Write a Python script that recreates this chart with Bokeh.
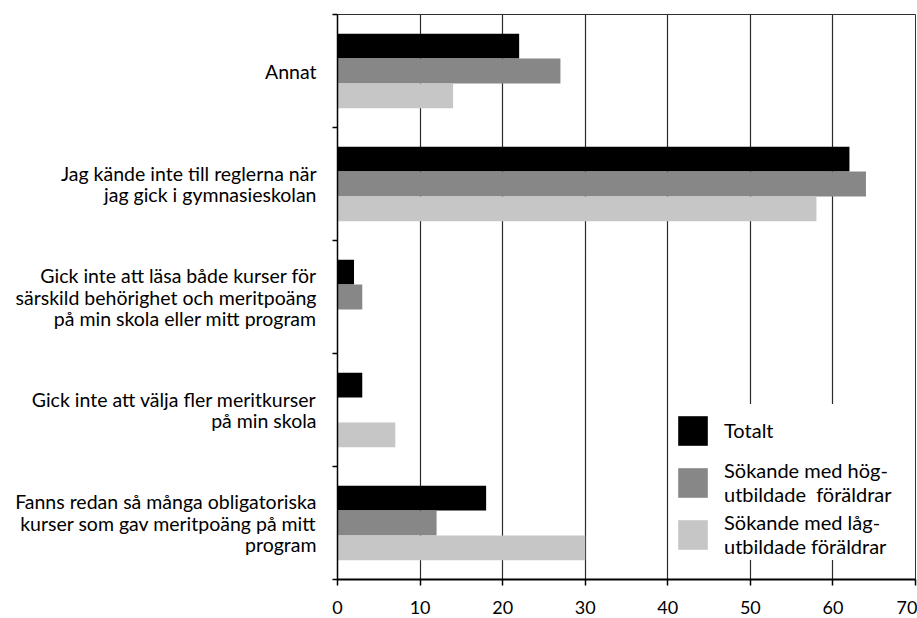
from bokeh.plotting import figure
from bokeh.models import Range1d, FixedTicker, Legend, LegendItem
from bokeh.embed import file_html
from bokeh.resources import INLINE

# ---- data ----
categories = [
    "Annat",
    "Jag kände inte till reglerna när\njag gick i gymnasieskolan",
    "Gick inte att läsa både kurser för\nsärskild behörighet och meritpoäng\npå min skola eller mitt program",
    "Gick inte att välja fler meritkurser\npå min skola",
    "Fanns redan så många obligatoriska\nkurser som gav meritpoäng på mitt\nprogram",
]
totalt = [22, 62, 2, 3, 18]
hog = [27, 64, 3, 0, 12]
lag = [14, 58, 0, 7, 30]
series_names = ["Totalt", "Sökande med hög-\nutbildade  föräldrar", "Sökande med låg-\nutbildade föräldrar"]
series_colors = ["#000000", "#878787", "#c6c6c6"]
x_ticks = [0, 10, 20, 30, 40, 50, 60, 70]

FONT = "Lato"
n = len(categories)
ypos = [n - 0.5 - i for i in range(n)]

p = figure(width=917, height=617, output_backend="svg", toolbar_location=None,
           x_range=Range1d(0, 70), y_range=Range1d(0, n),
           min_border_left=337, min_border_right=2, min_border_top=14, min_border_bottom=38)
p.background_fill_color = "white"
p.border_fill_color = "white"
p.outline_line_color = "#303030"
p.outline_line_width = 1

bar_h = 0.22
offsets = [bar_h, 0.0, -bar_h]
renderers = []
for vals, off, col in zip([totalt, hog, lag], offsets, series_colors):
    r = p.hbar(y=[y + off for y in ypos], left=0, right=vals, height=bar_h,
               fill_color=col, line_color=None)
    renderers.append(r)

# x axis
p.xaxis.ticker = FixedTicker(ticks=x_ticks)
p.xaxis.axis_line_color = "black"
p.xaxis.axis_line_width = 2
p.xaxis.major_tick_out = 6
p.xaxis.major_tick_in = 0
p.xaxis.major_tick_line_color = "black"
p.xaxis.major_tick_line_width = 1.5
p.xaxis.minor_tick_line_color = None
p.xaxis.major_label_text_font = FONT
p.xaxis.major_label_text_font_size = "18px"
p.xaxis.major_label_text_color = "black"
p.xaxis.major_label_standoff = 15

# y axis: category labels at centres, tick marks at boundaries
p.yaxis.ticker = FixedTicker(ticks=ypos, minor_ticks=list(range(n + 1)))
p.yaxis.major_label_overrides = {y: cat for y, cat in zip(ypos, categories)}
p.yaxis.axis_line_color = "black"
p.yaxis.axis_line_width = 1.5
p.yaxis.major_tick_out = 0
p.yaxis.major_tick_in = 0
p.yaxis.minor_tick_out = 5
p.yaxis.minor_tick_in = 0
p.yaxis.minor_tick_line_color = "black"
p.yaxis.minor_tick_line_width = 1.5
p.yaxis.major_label_standoff = 16
p.yaxis.major_label_text_font = FONT
p.yaxis.major_label_text_font_size = "19.5px"
p.yaxis.major_label_text_line_height = 0.95
p.yaxis.major_label_text_color = "black"

p.xgrid.ticker = FixedTicker(ticks=x_ticks)
p.xgrid.grid_line_color = "#2a2a2a"
p.xgrid.grid_line_width = 1.2
p.ygrid.grid_line_color = None

legend = Legend(items=[LegendItem(label=nm, renderers=[r]) for nm, r in zip(series_names, renderers)],
                location=(337, 19), orientation="vertical")
legend.glyph_width = 37
legend.glyph_height = 37
legend.label_height = 52
legend.label_standoff = 13
legend.padding = 12
legend.margin = 0
legend.spacing = -6
legend.border_line_color = None
legend.background_fill_color = "white"
legend.background_fill_alpha = 1
legend.label_text_font = FONT
legend.label_text_font_size = "20px"
legend.label_text_line_height = 0.8
legend.label_text_color = "black"
p.add_layout(legend)

open("out.html", "w").write(file_html(p, INLINE))
